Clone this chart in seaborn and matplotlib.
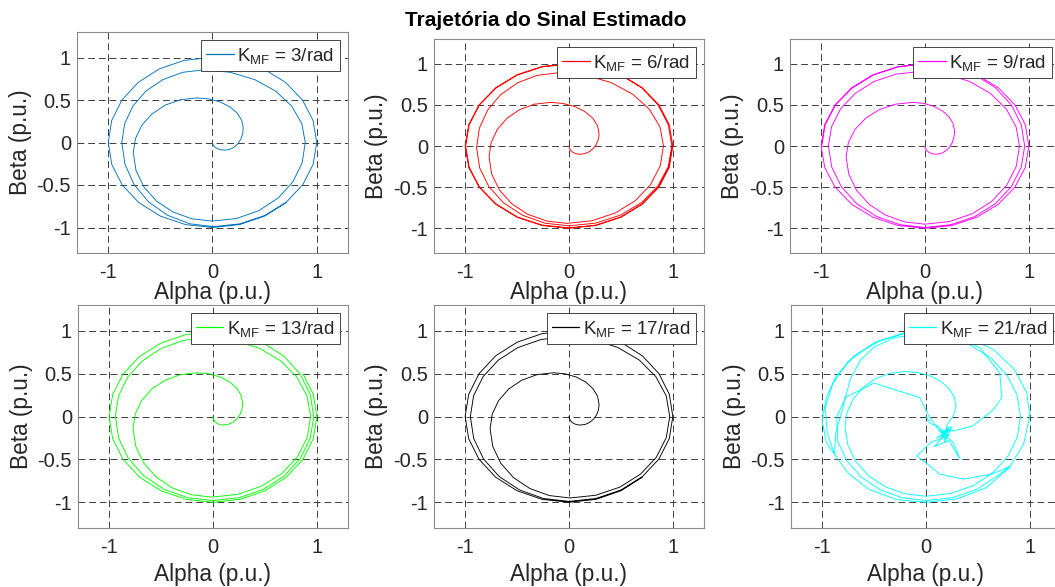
import numpy as np
import pandas as pd
import matplotlib
matplotlib.use("Agg")
import matplotlib.pyplot as plt
import seaborn as sns

# ---------------- data ----------------
k_values = [3, 6, 9, 13, 17, 21]
line_colors = ["#0072BD", "#FF0000", "#FF00FF", "#00FF00", "#000000", "#00FFFF"]
x_ticks = [-1, 0, 1]
x_tick_labels = ["-1", "0", "1"]
y_ticks = [-1, -0.5, 0, 0.5, 1]
y_tick_labels = ["-1", "-0.5", "0", "0.5", "1"]
title_text = "Trajetória do Sinal Estimado"
x_label = "Alpha (p.u.)"
y_label = "Beta (p.u.)"

traj_k3 = [
    (0, 0), (0.004, -0.023), (0.016, -0.045), (0.035, -0.064), (0.06, -0.078), (0.089, -0.087), (0.12, -0.09),
    (0.165, -0.081), (0.208, -0.055), (0.244, -0.014), (0.272, 0.04), (0.289, 0.103), (0.295, 0.17),
    (0.28, 0.262), (0.235, 0.348), (0.165, 0.421), (0.073, 0.477), (-0.035, 0.513), (-0.15, 0.525),
    (-0.308, 0.503), (-0.455, 0.439), (-0.581, 0.336), (-0.678, 0.203), (-0.739, 0.047), (-0.76, -0.12),
    (-0.734, -0.328), (-0.658, -0.523), (-0.537, -0.689), (-0.38, -0.817), (-0.197, -0.898), (0.0, -0.925),
    (0.231, -0.894), (0.445, -0.801), (0.629, -0.654), (0.771, -0.463), (0.86, -0.24), (0.89, 0.0),
    (0.857, 0.221), (0.76, 0.428), (0.606, 0.605), (0.405, 0.74), (0.171, 0.826), (-0.08, 0.855),
    (-0.285, 0.826), (-0.475, 0.74), (-0.639, 0.605), (-0.764, 0.428), (-0.843, 0.221), (-0.87, 0.0),
    (-0.84, -0.256), (-0.752, -0.495), (-0.612, -0.70), (-0.43, -0.857), (-0.218, -0.956), (0.01, -0.99),
    (0.266, -0.956), (0.505, -0.857), (0.71, -0.70), (0.867, -0.495), (0.966, -0.256), (1.0, 0.0),
    (0.965, 0.259), (0.863, 0.5), (0.701, 0.707), (0.49, 0.866), (0.244, 0.966), (-0.02, 1.0),
    (-0.274, 0.966), (-0.51, 0.866), (-0.713, 0.707), (-0.869, 0.5), (-0.967, 0.259), (-1.0, 0.0),
    (-0.966, -0.259), (-0.866, -0.5), (-0.707, -0.707), (-0.5, -0.866), (-0.259, -0.966), (0.0, -1.0),
    (0.259, -0.966), (0.5, -0.866), (0.707, -0.707),
]

traj_k6 = [
    (0, 0), (0.004, -0.026), (0.014, -0.05), (0.031, -0.071), (0.053, -0.087), (0.079, -0.097), (0.106, -0.1),
    (0.154, -0.092), (0.198, -0.067), (0.236, -0.027), (0.265, 0.025), (0.284, 0.085), (0.29, 0.15),
    (0.274, 0.248), (0.227, 0.34), (0.152, 0.419), (0.055, 0.479), (-0.058, 0.517), (-0.18, 0.53),
    (-0.333, 0.508), (-0.475, 0.442), (-0.597, 0.337), (-0.691, 0.2), (-0.75, 0.041), (-0.77, -0.13),
    (-0.745, -0.34), (-0.67, -0.535), (-0.55, -0.703), (-0.395, -0.831), (-0.214, -0.912), (-0.02, -0.94),
    (0.221, -0.908), (0.445, -0.814), (0.638, -0.665), (0.785, -0.47), (0.878, -0.243), (0.91, 0.0),
    (0.876, 0.231), (0.775, 0.445), (0.614, 0.629), (0.405, 0.771), (0.162, 0.86), (-0.1, 0.89),
    (-0.305, 0.859), (-0.495, 0.768), (-0.659, 0.623), (-0.784, 0.435), (-0.863, 0.216), (-0.89, -0.02),
    (-0.86, -0.266), (-0.771, -0.495), (-0.629, -0.692), (-0.445, -0.843), (-0.231, -0.938), (0.0, -0.97),
    (0.256, -0.937), (0.495, -0.84), (0.70, -0.686), (0.857, -0.485), (0.956, -0.251), (0.99, 0.0),
    (0.956, 0.259), (0.857, 0.5), (0.70, 0.707), (0.495, 0.866), (0.256, 0.966), (0.0, 1.0),
    (-0.259, 0.966), (-0.5, 0.866), (-0.707, 0.707), (-0.866, 0.5), (-0.966, 0.259), (-1.0, 0.0),
    (-0.966, -0.259), (-0.866, -0.5), (-0.707, -0.707), (-0.5, -0.866), (-0.259, -0.966), (0.0, -1.0),
    (0.259, -0.966), (0.5, -0.866), (0.707, -0.707), (0.866, -0.5), (0.966, -0.259), (1.0, 0.0),
    (0.966, 0.259), (0.866, 0.5), (0.707, 0.707), (0.5, 0.866), (0.259, 0.966), (0.0, 0.995),
    (-0.258, 0.961), (-0.498, 0.862), (-0.703, 0.703), (-0.862, 0.498), (-0.961, 0.258), (-0.995, 0.0),
    (-0.961, -0.258), (-0.862, -0.498), (-0.703, -0.703), (-0.498, -0.862), (-0.258, -0.961), (0.0, -0.995),
    (0.258, -0.961), (0.498, -0.862), (0.703, -0.703), (0.862, -0.498), (0.961, -0.258), (0.995, 0.0),
]

traj_k9 = [
    (0, 0), (0.004, -0.026), (0.015, -0.05), (0.032, -0.071), (0.055, -0.087), (0.082, -0.097), (0.11, -0.1),
    (0.155, -0.09), (0.198, -0.062), (0.234, -0.018), (0.262, 0.04), (0.279, 0.107), (0.285, 0.18),
    (0.271, 0.271), (0.231, 0.355), (0.166, 0.427), (0.083, 0.483), (-0.015, 0.518), (-0.12, 0.53),
    (-0.286, 0.508), (-0.44, 0.442), (-0.572, 0.337), (-0.674, 0.2), (-0.738, 0.041), (-0.76, -0.13),
    (-0.734, -0.342), (-0.658, -0.54), (-0.537, -0.71), (-0.38, -0.84), (-0.197, -0.922), (0.0, -0.95),
    (0.236, -0.918), (0.455, -0.823), (0.643, -0.672), (0.788, -0.475), (0.879, -0.246), (0.91, 0.0),
    (0.877, 0.234), (0.781, 0.453), (0.629, 0.64), (0.43, 0.784), (0.199, 0.874), (-0.05, 0.905),
    (-0.278, 0.874), (-0.49, 0.784), (-0.672, 0.64), (-0.812, 0.453), (-0.9, 0.234), (-0.93, 0.0),
    (-0.898, -0.256), (-0.805, -0.495), (-0.658, -0.70), (-0.465, -0.857), (-0.241, -0.956), (0.0, -0.99),
    (0.249, -0.956), (0.48, -0.857), (0.679, -0.70), (0.831, -0.495), (0.927, -0.256), (0.96, 0.0),
    (0.927, 0.259), (0.831, 0.5), (0.679, 0.707), (0.48, 0.866), (0.249, 0.966), (0.0, 1.0),
    (-0.259, 0.966), (-0.5, 0.866), (-0.707, 0.707), (-0.866, 0.5), (-0.966, 0.259), (-1.0, 0.0),
    (-0.966, -0.259), (-0.866, -0.5), (-0.707, -0.707), (-0.5, -0.866), (-0.259, -0.966), (0.0, -1.0),
    (0.259, -0.966), (0.5, -0.866), (0.707, -0.707), (0.866, -0.5), (0.966, -0.259), (1.0, 0.0),
    (0.966, 0.259), (0.866, 0.5), (0.707, 0.707), (0.5, 0.866), (0.259, 0.966), (0.0, 0.995),
    (-0.258, 0.961), (-0.498, 0.862), (-0.703, 0.703), (-0.862, 0.498), (-0.961, 0.258), (-0.995, 0.0),
]

traj_k13 = [
    (0, 0), (0.003, -0.026), (0.013, -0.05), (0.029, -0.071), (0.05, -0.087), (0.074, -0.097), (0.1, -0.1),
    (0.148, -0.091), (0.193, -0.066), (0.232, -0.025), (0.261, 0.027), (0.28, 0.089), (0.286, 0.155),
    (0.271, 0.247), (0.227, 0.333), (0.157, 0.406), (0.066, 0.462), (-0.04, 0.498), (-0.154, 0.51),
    (-0.314, 0.488), (-0.462, 0.423), (-0.59, 0.32), (-0.687, 0.185), (-0.749, 0.028), (-0.77, -0.14),
    (-0.744, -0.347), (-0.668, -0.54), (-0.547, -0.706), (-0.39, -0.833), (-0.207, -0.913), (-0.01, -0.94),
    (0.236, -0.908), (0.465, -0.814), (0.662, -0.665), (0.813, -0.47), (0.908, -0.243), (0.94, 0.0),
    (0.906, 0.238), (0.807, 0.46), (0.65, 0.65), (0.445, 0.797), (0.206, 0.889), (-0.05, 0.92),
    (-0.281, 0.889), (-0.495, 0.797), (-0.679, 0.65), (-0.821, 0.46), (-0.91, 0.238), (-0.94, 0.0),
    (-0.908, -0.254), (-0.814, -0.49), (-0.665, -0.693), (-0.47, -0.849), (-0.243, -0.947), (0.0, -0.98),
    (0.251, -0.947), (0.485, -0.849), (0.686, -0.693), (0.84, -0.49), (0.937, -0.254), (0.97, 0.0),
    (0.937, 0.256), (0.84, 0.495), (0.686, 0.70), (0.485, 0.857), (0.251, 0.956), (0.0, 0.99),
    (-0.259, 0.956), (-0.5, 0.857), (-0.707, 0.70), (-0.866, 0.495), (-0.966, 0.256), (-1.0, 0.0),
    (-0.966, -0.259), (-0.866, -0.5), (-0.707, -0.707), (-0.5, -0.866), (-0.259, -0.966), (0.0, -1.0),
    (0.259, -0.966), (0.5, -0.866), (0.707, -0.707), (0.866, -0.5), (0.966, -0.259), (1.0, 0.0),
    (0.966, 0.259), (0.866, 0.5),
]

traj_k17 = [
    (0, 0), (0.004, -0.026), (0.015, -0.05), (0.032, -0.071), (0.055, -0.087), (0.082, -0.097), (0.11, -0.1),
    (0.157, -0.092), (0.2, -0.068), (0.237, -0.03), (0.266, 0.02), (0.284, 0.078), (0.29, 0.14),
    (0.275, 0.236), (0.231, 0.325), (0.161, 0.402), (0.07, 0.46), (-0.036, 0.497), (-0.15, 0.51),
    (-0.308, 0.488), (-0.455, 0.423), (-0.581, 0.32), (-0.678, 0.185), (-0.739, 0.028), (-0.76, -0.14),
    (-0.734, -0.35), (-0.657, -0.545), (-0.534, -0.713), (-0.375, -0.841), (-0.189, -0.922), (0.01, -0.95),
    (0.259, -0.918), (0.49, -0.823), (0.689, -0.672), (0.841, -0.475), (0.937, -0.246), (0.97, 0.0),
    (0.936, 0.241), (0.836, 0.465), (0.677, 0.658), (0.47, 0.805), (0.229, 0.898), (-0.03, 0.93),
    (-0.268, 0.898), (-0.49, 0.805), (-0.68, 0.658), (-0.827, 0.465), (-0.919, 0.241), (-0.95, 0.0),
    (-0.918, -0.256), (-0.823, -0.495), (-0.672, -0.70), (-0.475, -0.857), (-0.246, -0.956), (0.0, -0.99),
    (0.259, -0.956), (0.5, -0.857), (0.707, -0.70), (0.866, -0.495), (0.966, -0.256), (1.0, 0.0),
    (0.966, 0.259), (0.866, 0.5), (0.707, 0.707), (0.5, 0.866), (0.259, 0.966), (0.0, 1.0),
    (-0.259, 0.966), (-0.5, 0.866), (-0.707, 0.707), (-0.866, 0.5), (-0.966, 0.259), (-1.0, 0.0),
    (-0.966, -0.259), (-0.866, -0.5), (-0.707, -0.707), (-0.5, -0.866), (-0.259, -0.966), (0.0, -1.0),
    (0.259, -0.966), (0.5, -0.866), (0.707, -0.707),
]

traj_k21 = [
    (0.0, 0.0), (0.04, -0.08), (0.12, -0.12), (0.2, -0.2), (0.1, -0.25), (0.24, -0.15),
    (0.18, -0.3), (0.2, -0.1), (0.26, 0.0), (0.29, 0.12),
    (0.273, 0.225), (0.224, 0.323), (0.146, 0.406), (0.045, 0.471), (-0.073, 0.511), (-0.2, 0.525),
    (-0.35, 0.503), (-0.49, 0.439), (-0.61, 0.336), (-0.702, 0.203), (-0.76, 0.047), (-0.78, -0.12),
    (-0.753, -0.33), (-0.675, -0.525), (-0.551, -0.693), (-0.39, -0.821), (-0.202, -0.902), (0.0, -0.93),
    (0.236, -0.898), (0.455, -0.805), (0.643, -0.658), (0.788, -0.465), (0.879, -0.241), (0.91, 0.0),
    (0.877, 0.249), (0.781, 0.48), (0.629, 0.679), (0.43, 0.831), (0.199, 0.927), (-0.05, 0.96),
    (-0.3, 0.92), (-0.5, 0.81), (-0.63, 0.66), (-0.73, 0.43), (-0.78, 0.2), (-0.86, 0.0),
    (-0.85, -0.291), (-0.762, -0.515), (-0.622, -0.708), (-0.44, -0.855), (-0.228, -0.948), (0.0, -0.98),
    (0.254, -0.947), (0.49, -0.849), (0.69, -0.69), (0.81, -0.58),
    (0.64, -0.67), (0.36, -0.73), (0.13, -0.67), (0.01, -0.55), (-0.09, -0.46), (0.05, -0.3),
    (0.22, -0.22), (0.12, -0.15), (0.26, -0.3), (0.33, -0.5), (0.22, -0.28), (0.08, -0.35),
    (0.25, -0.12), (0.15, -0.25), (0.2, -0.15), (0.26, -0.17),
    (0.45, -0.11), (0.65, 0.08), (0.73, 0.22), (0.71, 0.51), (0.52, 0.8), (0.3, 0.93),
    (0.05, 0.99), (-0.2, 0.97), (-0.45, 0.88), (-0.68, 0.72), (-0.86, 0.48), (-0.96, 0.22),
    (-1.0, -0.05), (-0.96, -0.3), (-0.87, -0.46), (-0.75, -0.66), (-0.55, -0.85), (-0.28, -0.97),
    (0.0, -1.0), (0.3, -0.96), (0.58, -0.83), (0.8, -0.6), (0.94, -0.32), (1.0, 0.0),
    (0.97, 0.28), (0.85, 0.55), (0.65, 0.78), (0.4, 0.93), (0.1, 1.0), (-0.2, 0.98),
    (-0.5, 0.86), (-0.75, 0.64), (-0.9, 0.38), (-0.97, 0.1), (-0.95, -0.2), (-0.88, -0.44),
    (-0.87, -0.2), (-0.8, 0.1), (-0.78, 0.22), (-0.5, 0.39), (-0.06, 0.22), (0.03, 0.0),
    (0.15, -0.2), (0.22, -0.12), (0.18, -0.26),
]

trajectories = [traj_k3, traj_k6, traj_k9, traj_k13, traj_k17, traj_k21]

# ---------------- styling / layout ----------------
sns.set_style("white")
plt.rcParams["font.family"] = ["Liberation Sans", "DejaVu Sans"]
plt.rcParams["mathtext.fontset"] = "custom"
plt.rcParams["mathtext.rm"] = "Liberation Sans"
plt.rcParams["lines.solid_joinstyle"] = "round"

W, H = 1055, 587
fig = plt.figure(figsize=(W / 100, H / 100), dpi=100)
fig.patch.set_facecolor("white")

# (left, right, top, bottom, xlabel baseline offset) in pixels
boxes_px = [
    (77, 348, 32, 253, 46), (434, 704, 39, 253, 46), (790, 1060, 39, 253, 46),
    (78, 348, 305, 528, 53), (434, 704, 305, 528, 53), (791, 1061, 305, 528, 53),
]

for pts, k, col, (l, r, t, b, xo) in zip(trajectories, k_values, line_colors, boxes_px):
    wpx, hpx = r - l, b - t
    ax = fig.add_axes([l / W, 1 - b / H, wpx / W, hpx / H])
    df = pd.DataFrame(pts, columns=["Alpha", "Beta"])
    label = r"$\mathregular{K_{MF}}$ = " + f"{k}/rad"
    sns.lineplot(data=df, x="Alpha", y="Beta", sort=False, estimator=None,
                 ax=ax, color=col, linewidth=0.65, label=label)
    ax.set_xlim(-1.3, 1.3)
    ax.set_ylim(-1.3, 1.3)
    ax.set_xticks(x_ticks)
    ax.set_xticklabels(x_tick_labels)
    ax.set_yticks(y_ticks)
    ax.set_yticklabels(y_tick_labels)
    ax.set_axisbelow(True)
    ax.grid(True, color="#3c3c3c", linestyle=(0, (7, 4)), linewidth=0.7)
    ax.tick_params(axis="x", length=0, labelsize=14.5, colors="#262626", pad=7.5)
    ax.tick_params(axis="y", length=0, labelsize=14.5, colors="#262626", pad=4.3)
    for sp in ax.spines.values():
        sp.set_color("#8a8a8a")
        sp.set_linewidth(0.8)
        sp.set_visible(True)
    ax.set_xlabel(x_label, fontsize=16.3, color="#262626")
    ax.set_ylabel(y_label, fontsize=16.3, color="#262626")
    ax.xaxis.set_label_coords(0.5, -xo / hpx)
    ax.xaxis.label.set_va("baseline")
    ax.yaxis.set_label_coords(-57 / wpx, 0.5)
    ax.yaxis.label.set_va("center")
    leg = ax.legend(loc="upper right", fontsize=13.5, frameon=True, fancybox=False,
                    framealpha=1, edgecolor="#262626", borderpad=0.28,
                    handlelength=1.45, handletextpad=0.2, borderaxespad=0.45)
    leg.get_frame().set_linewidth(0.6)
    for hl in leg.get_lines():
        hl.set_linewidth(0.9)

fig.text(546 / W, 1 - 26 / H, title_text, ha="center", va="baseline",
         fontsize=15, fontweight="bold", color="black")

fig.savefig("out.png", dpi=100, facecolor="white")
